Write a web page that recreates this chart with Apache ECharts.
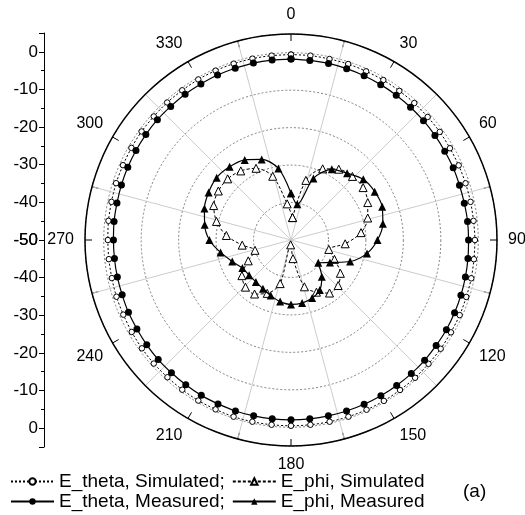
<!DOCTYPE html>
<html>
<head>
<meta charset="utf-8">
<script src="https://cdn.jsdelivr.net/npm/echarts@6/dist/echarts.min.js"></script>
<style>
html,body{margin:0;padding:0;background:#fff;}
#chart{width:525px;height:515px;}
</style>
</head>
<body>
<div id="chart"></div>
<script>
// ---- data ----
const angleLabels = [0, 30, 60, 90, 120, 150, 180, 210, 240, 270, 300, 330];
const radiusTicks = [0, -10, -20, -30, -40, -50];

const thetaAngles = [0,6,12,18,24,30,36,42,48,54,60,66,72,78,84,90,96,102,108,114,120,126,132,138,144,150,156,162,168,174,180,186,192,198,204,210,216,222,228,234,240,246,252,258,264,270,276,282,288,294,300,306,312,318,324,330,336,342,348,354];
const thetaSim = [-0.5,-0.5,-0.6,-0.6,-0.7,-0.7,-0.8,-0.8,-0.9,-0.9,-1.0,-1.0,-1.0,-1.0,-1.0,-0.9,-0.9,-0.8,-0.8,-0.7,-0.7,-0.6,-0.6,-0.5,-0.5,-0.4,-0.4,-0.4,-0.4,-0.4,-0.4,-0.4,-0.4,-0.4,-0.5,-0.5,-0.6,-0.7,-0.7,-0.8,-0.9,-1.0,-1.0,-1.1,-1.1,-1.1,-1.0,-1.0,-0.9,-0.9,-0.8,-0.7,-0.7,-0.6,-0.6,-0.5,-0.5,-0.5,-0.5,-0.5];
const thetaMeas = [-1.7,-1.8,-1.8,-1.9,-2.0,-2.1,-2.2,-2.3,-2.4,-2.5,-2.6,-2.6,-2.7,-2.7,-2.6,-2.6,-2.5,-2.4,-2.3,-2.2,-2.1,-2.1,-2.0,-2.0,-2.0,-2.0,-2.0,-2.0,-2.0,-2.0,-2.0,-2.0,-2.0,-2.0,-2.1,-2.1,-2.2,-2.3,-2.3,-2.4,-2.5,-2.5,-2.6,-2.6,-2.6,-2.6,-2.5,-2.5,-2.4,-2.3,-2.2,-2.1,-2.0,-2.0,-1.9,-1.9,-1.8,-1.8,-1.7,-1.7];

const phiSimAngles = [4,14,24,34,44,54,64,74,84,94,104,114,124,134,144,154,164,174,184,194,204,214,224,234,244,254,264,274,284,294,304,314,324,334,344,354];
const phiSim = [-44,-33.6,-29.2,-27.2,-26.4,-26.2,-27.2,-28.7,-31.2,-35.5,-39.6,-37.3,-34.1,-32.5,-32.5,-34.5,-37,-45,-48.7,-38,-34.4,-32.6,-32.5,-33.8,-37.3,-40,-36.9,-32.7,-29.5,-27.4,-26.6,-26.5,-27.2,-28.7,-32.3,-40.3];

const phiMeasAngles = [0,10,20,30,40,50,60,70,80,90,100,110,120,130,140,150,160,170,180,190,200,210,220,230,240,250,260,270,280,290,300,310,320,330,340,350];
const phiMeas = [-37.5,-40.3,-32.5,-28.2,-26.7,-24.8,-24.2,-24.1,-25.1,-26.9,-29.4,-33.2,-38,-40.5,-37.2,-34.6,-33.5,-32.9,-32.8,-33.3,-34.2,-35,-35.4,-35.4,-35,-33.3,-30.9,-28.2,-26.6,-25.4,-24.6,-24.1,-24.5,-25.3,-27.1,-30.6];

const seriesNames = ['E_theta, Simulated;', 'E_phi, Simulated', 'E_theta, Measured;', 'E_phi, Measured'];

// ---- helpers ----
function closedLoop(angles, vals) {
  const d = angles.map((a, i) => [vals[i], a]);
  d.push([vals[0], angles[0] + 360]);
  return d;
}

const FONT = "'Liberation Sans', Arial, sans-serif";
const chart = echarts.init(document.getElementById('chart'), null, {renderer: 'canvas'});

function sideAxis(gridIndex, inverse) {
  return {
    gridIndex: gridIndex, type: 'value', min: -50, max: 5, interval: 10, inverse: inverse,
    position: 'left',
    axisLine: {show: true, onZero: false, lineStyle: {color: '#000', width: 1}},
    axisTick: {show: true, inside: false, length: 5, lineStyle: {color: '#000', width: 1}},
    minorTick: {show: true, splitNumber: 2, length: 3, lineStyle: {color: '#000', width: 1}},
    axisLabel: {color: '#000', fontSize: 17, fontFamily: FONT, margin: 6,
      formatter: v => (radiusTicks.indexOf(v) >= 0 ? String(v) : '')},
    splitLine: {show: false}, minorSplitLine: {show: false}
  };
}

const option = {
  animation: false,
  backgroundColor: '#fff',
  grid: [
    {left: 44, top: 33, width: 1, height: 207},
    {left: 44, top: 240, width: 1, height: 207}
  ],
  xAxis: [
    {gridIndex: 0, type: 'value', show: false},
    {gridIndex: 1, type: 'value', show: false}
  ],
  yAxis: [sideAxis(0, false), sideAxis(1, true)],
  polar: {center: [291, 240], radius: 206},
  angleAxis: {
    type: 'value', min: 0, max: 360, interval: 15, startAngle: 90, clockwise: true,
    axisLine: {show: true, lineStyle: {color: '#000', width: 1.5}},
    axisTick: {show: true, inside: true, length: 7, lineStyle: {color: '#000', width: 1}},
    axisLabel: {color: '#000', fontSize: 16, fontFamily: FONT, margin: 11,
      formatter: v => (angleLabels.indexOf(v) >= 0 ? String(v) : '')},
    splitLine: {show: true, lineStyle: {color: ['rgba(0,0,0,0)', '#cccccc'], width: 1}}
  },
  radiusAxis: {
    type: 'value', min: -50, max: 5, interval: 10,
    axisLine: {show: false}, axisTick: {show: false}, axisLabel: {show: false},
    splitLine: {show: true, lineStyle: {color: '#808080', type: [2, 2], width: 1}}
  },
  legend: [
    {
      data: [seriesNames[0], seriesNames[1]], left: 10, top: 472, padding: 0,
      itemWidth: 43, itemHeight: 8, itemGap: 7, selectedMode: false,
      textStyle: {color: '#000', fontSize: 19, fontFamily: FONT}
    },
    {
      data: [seriesNames[2], seriesNames[3]], left: 10, top: 492, padding: 0,
      itemWidth: 43, itemHeight: 8, itemGap: 7, selectedMode: false,
      textStyle: {color: '#000', fontSize: 19, fontFamily: FONT}
    }
  ],
  graphic: [
    {type: 'text', left: 463, top: 482, style: {text: '(a)', fill: '#000', font: '19px ' + FONT}}
  ],
  series: [
    {
      name: seriesNames[0], type: 'line', coordinateSystem: 'polar', smooth: 0.3,
      data: closedLoop(thetaAngles, thetaSim),
      symbol: 'circle', symbolSize: 5.5,
      lineStyle: {color: '#000', width: 1, type: [2, 2]},
      itemStyle: {color: '#fff', borderColor: '#000', borderWidth: 1}, z: 3
    },
    {
      name: seriesNames[1], type: 'line', coordinateSystem: 'polar', smooth: 0.3,
      data: closedLoop(phiSimAngles, phiSim),
      symbol: 'triangle', symbolSize: 8,
      lineStyle: {color: '#000', width: 1, type: [3, 2]},
      itemStyle: {color: '#fff', borderColor: '#000', borderWidth: 1}, z: 3
    },
    {
      name: seriesNames[2], type: 'line', coordinateSystem: 'polar', smooth: 0.3,
      data: closedLoop(thetaAngles, thetaMeas),
      symbol: 'circle', symbolSize: 7,
      lineStyle: {color: '#000', width: 1.2},
      itemStyle: {color: '#000', borderColor: '#000', borderWidth: 0}, z: 4
    },
    {
      name: seriesNames[3], type: 'line', coordinateSystem: 'polar', smooth: 0.3,
      data: closedLoop(phiMeasAngles, phiMeas),
      symbol: 'triangle', symbolSize: 8,
      lineStyle: {color: '#000', width: 1.2},
      itemStyle: {color: '#000', borderColor: '#000', borderWidth: 0}, z: 4
    }
  ]
};
chart.setOption(option);
</script>
</body>
</html>
